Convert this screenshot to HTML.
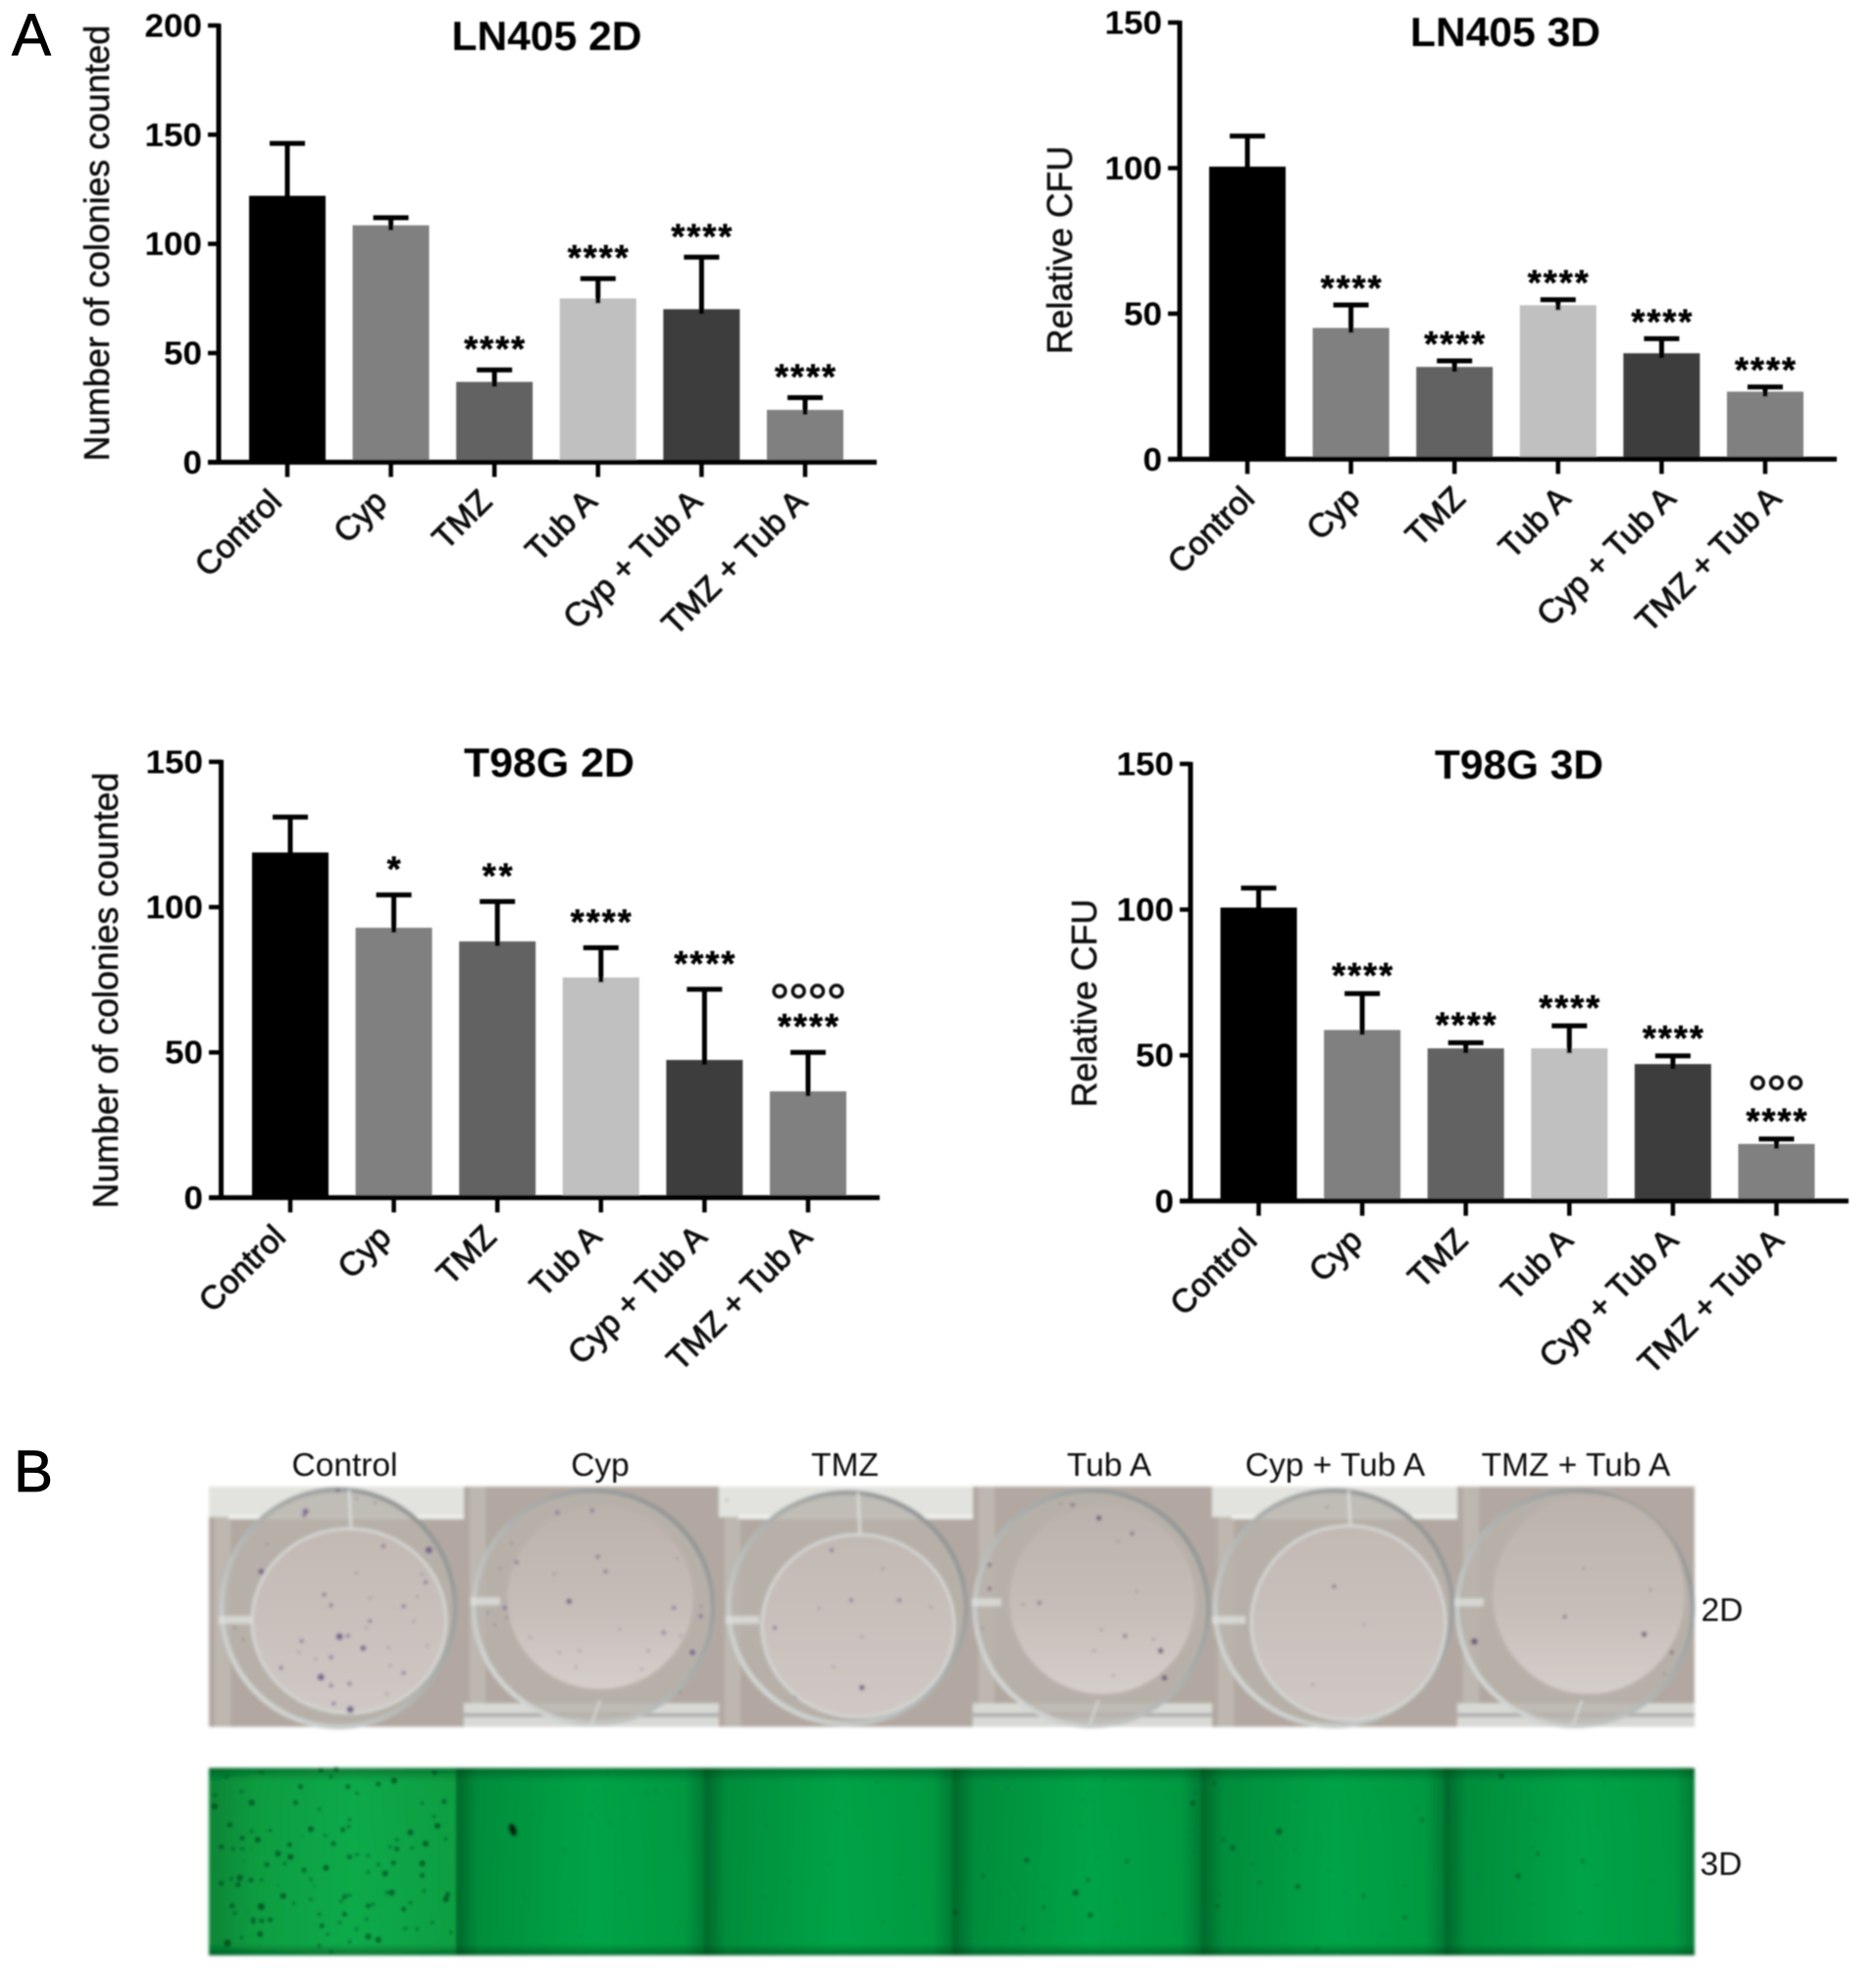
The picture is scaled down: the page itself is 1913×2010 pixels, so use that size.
<!DOCTYPE html>
<html lang="en">
<head>
<meta charset="utf-8">
<title>Colony formation charts</title>
<style>
html,body{margin:0;padding:0;background:#fff;width:1913px;height:2010px;overflow:hidden}
svg{display:block;font-family:"Liberation Sans",sans-serif}
</style>
</head>
<body>
<svg id="figure" xmlns="http://www.w3.org/2000/svg" width="1913" height="2010" viewBox="0 0 1913 2010">
<defs>
<filter id="soft" x="-5%" y="-5%" width="110%" height="110%"><feGaussianBlur stdDeviation="0.9"/></filter>
<filter id="soft2" x="-5%" y="-5%" width="110%" height="110%"><feGaussianBlur stdDeviation="1.6"/></filter>
<linearGradient id="greenA" x1="0" x2="1" y1="0" y2="0"><stop offset="0%" stop-color="#078a38"/><stop offset="20%" stop-color="#09a444"/><stop offset="58%" stop-color="#0cb14e"/><stop offset="100%" stop-color="#09a545"/></linearGradient>
<linearGradient id="greenB" x1="0" x2="1" y1="0" y2="0"><stop offset="0%" stop-color="#056a2c"/><stop offset="9%" stop-color="#04933f"/><stop offset="55%" stop-color="#03aa4a"/><stop offset="92%" stop-color="#039f44"/><stop offset="100%" stop-color="#037f36"/></linearGradient>
<linearGradient id="greenEdge" x1="0" x2="0" y1="0" y2="1"><stop offset="0%" stop-color="#013010" stop-opacity="0.45"/><stop offset="7%" stop-color="#013010" stop-opacity="0.06"/><stop offset="94%" stop-color="#013010" stop-opacity="0.05"/><stop offset="100%" stop-color="#013010" stop-opacity="0.5"/></linearGradient>
<linearGradient id="ringStroke" x1="1" x2="0" y1="0" y2="1"><stop offset="0%" stop-color="#8a8d8e"/><stop offset="50%" stop-color="#aeb2b0"/><stop offset="100%" stop-color="#dfe2e0"/></linearGradient>
<linearGradient id="floorClosed" x1="0" x2="0" y1="0" y2="1"><stop offset="0%" stop-color="#bcb2ac"/><stop offset="55%" stop-color="#c6bdb8"/><stop offset="100%" stop-color="#d5cfcb"/></linearGradient>
<linearGradient id="floorOpen" x1="0" x2="0" y1="0" y2="1"><stop offset="0%" stop-color="#c2b9b3"/><stop offset="100%" stop-color="#d0c8c5"/></linearGradient>
</defs>
<text x="12" y="56" font-size="60" fill="#000" stroke="#000" stroke-width="0.8">A</text>
<text x="14" y="1521" font-size="60" fill="#000" stroke="#000" stroke-width="0.8">B</text>
<g id="charts" filter="url(#soft)"></g>
<g id="photos"></g>
<g id="photoLabels" filter="url(#soft)" font-size="33.5" fill="#111"></g>
</svg>
<script>
// ---- chart data ----
const categories = ["Control", "Cyp", "TMZ", "Tub A", "Cyp + Tub A", "TMZ + Tub A"];

const lnTwoDMeans = [122, 108.5, 36.8, 75, 70.1, 24];
const lnTwoDTops = [146, 112, 42.3, 84.1, 93.9, 29.6];
const lnTwoDTicks = [0, 50, 100, 150, 200];
const lnTwoDStars = ["", "", "****", "****", "****", "****"];
const lnTwoDRings = ["", "", "", "", "", ""];

const lnThreeDMeans = [100.5, 45.1, 31.7, 52.9, 36.4, 23.2];
const lnThreeDTops = [111, 53, 33.8, 54.8, 41.4, 24.8];
const lnThreeDTicks = [0, 50, 100, 150];
const lnThreeDStars = ["", "****", "****", "****", "****", "****"];
const lnThreeDRings = ["", "", "", "", "", ""];

const tTwoDMeans = [118.8, 92.9, 88.2, 75.8, 47.4, 36.6];
const tTwoDTops = [131, 104.2, 101.9, 86, 71.7, 50];
const tTwoDTicks = [0, 50, 100, 150];
const tTwoDStars = ["", "*", "**", "****", "****", "****"];
const tTwoDRings = ["", "", "", "", "", "°°°°"];

const tThreeDMeans = [100.7, 58.7, 52.4, 52.4, 47, 19.6];
const tThreeDTops = [107.4, 71.2, 54.3, 60.1, 49.8, 21.3];
const tThreeDTicks = [0, 50, 100, 150];
const tThreeDStars = ["", "****", "****", "****", "****", "****"];
const tThreeDRings = ["", "", "", "", "", "°°°"];

// ---- photo strip content (colony spots) ----
const photoHeadings = ["Control", "Cyp", "TMZ", "Tub A", "Cyp + Tub A", "TMZ + Tub A"];
const greenLeftCells = [[40,140,5],[75,50,3],[150,128,5],[120,95,3],[180,38,3],[295,80,4],[280,128,4],[350,148,3],[355,30,4],[400,28,4],[385,50,3],[435,80,4],[462,100,3],[525,72,4],[572,62,5],[692,38,4],[655,130,3],[720,125,4],[42,105,3],[85,195,4],[150,215,3],[205,212,3],[168,240,5],[122,235,4],[60,262,4],[95,268,3],[122,268,3],[150,268,2],[228,282,5],[262,255,4],[265,292,5],[195,315,4],[248,312,3],[130,305,2],[325,208,5],[300,228,2],[368,228,3],[392,252,4],[420,210,4],[440,180,3],[437,200,3],[620,218,5],[690,170,3],[700,198,5],[725,238,3],[665,252,5],[625,265,3],[580,240,3],[560,262,3],[580,268,4],[570,310,4],[655,312,5],[525,315,3],[655,348,4],[545,342,5],[370,325,5],[305,332,4],[325,360,3],[335,380,2],[495,288,3],[440,292,4],[462,285,3],[495,338,3],[60,372,4],[90,358,3],[115,355,5],[110,376,4],[148,362,4],[180,362,3],[228,378,2],[243,410,5],[275,432,3],[325,420,3],[425,412,4],[440,408,3],[415,425,3],[565,400,5],[550,400,3],[660,395,3],[730,405,4],[725,420,5],[92,440,4],[178,442,6],[100,462,3],[140,458,2],[155,482,4],[180,485,4],[205,482,4],[155,490,3],[495,440,4],[510,435,3],[600,450,4],[620,430,3],[350,465,3],[425,465,4],[490,480,3],[685,490,3],[358,500,4],[410,490,3],[460,510,3],[605,508,3],[640,510,3],[175,525,5],[120,535,3],[78,552,6],[375,525,3],[495,532,5],[525,542,5],[740,520,3],[172,560,2],[350,560,3],[440,548,3],[385,578,3],
  [1120,160,2],[1155,165,2],[1210,187,2],[1250,170,2],[1020,50,2],[1205,40,2],[1345,95,2],[1320,100,2],[980,160,2],[1100,455,2],[1240,400,2],[1125,530,2],[1420,490,2],[1075,270,2],[960,420,2]];
const greenMidCells = [[894,1818,2],[854,1849,2],[781,1862,2],[759,1842,2],[805,1919,2],[931,1944,2],[918,1912,2],[844,1900,2],[900,1960,2],[780,1935,2]];
const greenRightCells = [[135,85,2],[335,60,2],[290,120,2],[175,302,4],[85,350,3],[380,305,3],[275,400,5],[300,362,3],[28,460,4],[210,445,3],[305,468,4],[168,508,3],[362,498,2],[225,485,2],[155,385,2],[120,400,2],[318,292,2],[95,265,2],[180,255,2],[285,195,2],[515,130,4],[520,100,2],[510,215,2],[515,275,2],[355,430,2],[455,468,2],[60,535,2],[330,550,2],[212,385,2],[692,215,5],[597,265,4],[578,240,3],[730,382,4],[652,370,3],[565,440,3],[570,405,2],[865,410,3],[828,398,2],[950,475,3],[770,570,3],[560,70,3],[985,180,3],[875,150,2],[975,150,2],[770,230,2],[695,260,2],[725,270,2],[640,315,2],[795,335,2],[730,125,2],[1020,510,2],[905,525,2],[950,378,2],[1148,48,4],[1315,305,3],[1182,350,4],[1222,283,3],[1285,160,2],[1220,178,2],[1458,365,2],[1518,125,2],[1100,345,2],[1345,378,2],[1205,435,2],[1310,460,2],[1360,72,2],[1210,265,2]];
const plateLeftCells = [[410,487,5],[355,610,5],[480,522,4],[675,225,5],[178,290,4],[442,708,5],[393,690,3],[440,630,3],[298,500,3],[290,535,2],[237,582,3],[340,555,2],[385,550,3],[600,597,3],[560,575,2],[555,520,2],[600,395,3],[640,365,2],[500,440,3],[490,460,2],[365,360,3],[385,392,3],[460,295,2],[540,213,3],[665,322,3],[655,298,2],[195,208,2],[310,108,4],[305,120,3],[515,82,2],[460,68,2],[405,45,3],[100,460,2],[125,495,2],[435,485,3],[670,515,2],[385,635,3],[550,660,2],[500,370,2],[630,440,2],[1090,380,4],[1175,245,3],[1198,290,3],[1055,112,3],[1158,105,3],[935,262,3],[885,280,2],[1045,297,2],[900,400,3],[850,415,2],[870,450,2],[905,430,2],[1400,400,3],[1370,475,3],[1455,535,4],[1480,425,3],[1480,395,2],[1420,485,2],[1305,585,2],[1120,530,2],[1060,535,2],[1240,465,2],[975,490,2],[1420,655,2],[1325,530,2],[1410,250,2],[1110,580,2],[920,205,2]];
const plateMidCells = [[917,1632,3],[868,1632,3],[790,1660,3],[879,1669,2],[879,1721,4],[811,1730,2],[848,1581,3],[949,1639,2],[741,1530,2],[835,1640,2],[900,1600,2],[850,1700,2]];
const plateRightCells = [[290,128,4],[360,175,3],[330,198,2],[235,88,3],[210,85,2],[165,385,3],[60,270,3],[60,342,3],[45,462,2],[420,530,4],[345,485,3],[280,530,2],[428,612,4],[320,605,2],[405,495,2],[295,465,2],[370,350,2],[130,390,2],[785,335,3],[848,450,2],[740,632,2],[770,95,2],[1080,502,5],[1437,480,4],[1270,427,3],[1495,535,3],[1310,280,2],[1450,345,2],[1480,600,2]];

// ---- drawing helpers ----
const SVGNS = "http://www.w3.org/2000/svg";
const GREYS = ["#000000", "#808080", "#626262", "#c0c0c0", "#3e3e3e", "#808080"];

function make(tag, attrs, parent) {
  const node = document.createElementNS(SVGNS, tag);
  for (const key in attrs) node.setAttribute(key, attrs[key]);
  parent.appendChild(node);
  return node;
}

function drawChart(root, opts) {
  const xScale = i => opts.firstX + opts.band * i;
  const yScale = v => opts.y0 - (v / opts.max) * (opts.y0 - opts.yTop);
  const g = make("g", {}, root);
  
  

  opts.means.forEach((mean, i) => {
    const cx = xScale(i);
    const bar = make("rect", {x: cx - 39, y: yScale(mean), width: 78, height: opts.y0 - yScale(mean), fill: GREYS[i]}, g);
    
    
    const stem = make("line", {x1: cx, x2: cx, y1: yScale(mean) + 5, y2: yScale(opts.tops[i]), stroke: "#000", "stroke-width": 5}, g);
    
    
    const cap = make("line", {x1: cx - 18, x2: cx + 18, y1: yScale(opts.tops[i]), y2: yScale(opts.tops[i]), stroke: "#000", "stroke-width": 5}, g);
    
    

    const tick = make("line", {x1: cx, x2: cx, y1: opts.y0, y2: opts.y0 + 15, stroke: "#000", "stroke-width": 4.5}, g);
    
    

    const lx = cx + opts.labelDx + opts.labelStep * i, ly = opts.y0 + 42;
    const label = make("text", {x: lx, y: ly, "text-anchor": "end", "font-size": 33.5, fill: "#111", stroke: "#111", "stroke-width": 0.9, transform: "rotate(-45 " + lx + " " + ly + ")"}, g);
    label.textContent = categories[i];
    
    

    if (opts.stars[i]) {
      const starCentre = yScale(opts.tops[i]) - opts.starGap;
      const stars = make("text", {x: cx, y: starCentre + 20, "text-anchor": "middle", "font-size": 36, "font-weight": "bold", fill: "#000", stroke: "#000", "stroke-width": 0.5, textLength: opts.stars[i].length * 15.5, lengthAdjust: "spacing"}, g);
      stars.textContent = opts.stars[i];
      
      
      if (opts.rings[i]) {
        const rings = make("text", {x: cx, y: starCentre - opts.ringGap + 29, "text-anchor": "middle", "font-size": 52, fill: "#111", stroke: "#111", "stroke-width": 0.7, textLength: opts.rings[i].length * 19.7, lengthAdjust: "spacing"}, g);
        rings.textContent = opts.rings[i];
        
        
      }
    }
  });

  opts.ticks.forEach(v => {
    const y = yScale(v);
    const tk = make("line", {x1: opts.axisLeft, x2: opts.axisX, y1: y, y2: y, stroke: "#000", "stroke-width": 4.5}, g);
    
    
    const s = String(v);
    const tl = make("text", {x: opts.axisLeft - 6, y: y + 11.5, "text-anchor": "end", "font-size": 33, "font-weight": "bold", fill: "#000", textLength: s.length * 19.5, lengthAdjust: "spacingAndGlyphs"}, g);
    tl.textContent = s;
    
    
  });

  const yAxis = make("line", {x1: opts.axisX, x2: opts.axisX, y1: opts.yTop - 2, y2: opts.y0 + 2, stroke: "#000", "stroke-width": 5}, g);
  
  
  const xAxis = make("line", {x1: opts.axisLeft, x2: opts.axisRight, y1: opts.y0, y2: opts.y0, stroke: "#000", "stroke-width": 5}, g);
  
  

  const title = make("text", {x: opts.titleX, y: opts.titleY, "text-anchor": "middle", "font-size": 42, "font-weight": "bold", fill: "#000", textLength: opts.titleW, lengthAdjust: "spacingAndGlyphs"}, g);
  title.textContent = opts.title;
  
  

  const yt = make("text", {x: 0, y: 0, "text-anchor": "middle", "font-size": 35.7, fill: "#111", stroke: "#111", "stroke-width": 0.5, transform: "translate(" + opts.yTitleX + " " + opts.yTitleY + ") rotate(-90)"}, g);
  yt.textContent = opts.yTitle;
  
  
}

const chartRoot = document.getElementById("charts");
drawChart(chartRoot, {name: "chart-ln405-2d", means: lnTwoDMeans, tops: lnTwoDTops, ticks: lnTwoDTicks, stars: lnTwoDStars, rings: lnTwoDRings, max: 200,
  firstX: 293, band: 105.6, y0: 471.4, yTop: 26, axisX: 223, axisLeft: 212, axisRight: 894, starGap: 29, ringGap: 28, labelDx: -4, labelStep: 1.6,
  title: "LN405 2D", titleX: 557.5, titleY: 51, titleW: 194, yTitle: "Number of colonies counted", yTitleX: 111, yTitleY: 248});
drawChart(chartRoot, {name: "chart-ln405-3d", means: lnThreeDMeans, tops: lnThreeDTops, ticks: lnThreeDTicks, stars: lnThreeDStars, rings: lnThreeDRings, max: 150,
  firstX: 1272, band: 105.6, y0: 468.3, yTop: 23, axisX: 1203, axisLeft: 1191, axisRight: 1873, starGap: 25, ringGap: 28, labelDx: 9, labelStep: 1.8,
  title: "LN405 3D", titleX: 1535, titleY: 47, titleW: 194, yTitle: "Relative CFU", yTitleX: 1093, yTitleY: 255});
drawChart(chartRoot, {name: "chart-t98g-2d", means: tTwoDMeans, tops: tTwoDTops, ticks: tTwoDTicks, stars: tTwoDStars, rings: tTwoDRings, max: 150,
  firstX: 296, band: 105.6, y0: 1221.4, yTop: 776.9, axisX: 225.5, axisLeft: 213, axisRight: 897, starGap: 34, ringGap: 28, labelDx: -3, labelStep: 1.8,
  title: "T98G 2D", titleX: 560, titleY: 792, titleW: 174, yTitle: "Number of colonies counted", yTitleX: 120, yTitleY: 1010});
drawChart(chartRoot, {name: "chart-t98g-3d", means: tThreeDMeans, tops: tThreeDTops, ticks: tThreeDTicks, stars: tThreeDStars, rings: tThreeDRings, max: 150,
  firstX: 1283.5, band: 105.6, y0: 1224.8, yTop: 779, axisX: 1214, axisLeft: 1203, axisRight: 1885, starGap: 26, ringGap: 31, labelDx: 0, labelStep: 1.8,
  title: "T98G 3D", titleX: 1549, titleY: 794, titleW: 172, yTitle: "Relative CFU", yTitleX: 1118, yTitleY: 1023});

// ---- photo strip ----
const photos = document.getElementById("photos");
const plateRow = make("g", {filter: "url(#soft2)"}, photos);


const plateEdges = [213, 473, 733, 992, 1236, 1486, 1728];
const plateTop = 1516, plateBottom = 1761;
const plateDishes = [
  {ox:345,orx:119,oy:1640,ory:121,ix:356,irx:99,iy:1653,iry:94,open:true},
  {ox:605,orx:122,oy:1639,ory:119,ix:612,irx:96,iy:1630,iry:94,open:false},
  {ox:864,orx:121,oy:1640,ory:118,ix:875,irx:98,iy:1658,iry:93,open:true},
  {ox:1113,orx:119,oy:1640,ory:120,ix:1124,irx:96,iy:1632,iry:97,open:false},
  {ox:1360,orx:121,oy:1640,ory:120,ix:1375,irx:99,iy:1655,iry:99,open:true},
  {ox:1606,orx:120,oy:1640,ory:120,ix:1620,irx:99,iy:1627,iry:102,open:false}
];
plateDishes.forEach((d, i) => {
  const panel = make("g", {}, plateRow);
  
  
  const x0 = plateEdges[i], x1 = plateEdges[i + 1], w = x1 - x0;
  make("rect", {x: x0, y: plateTop, width: w, height: plateBottom - plateTop, fill: "#b2a8a1"}, panel);
  make("rect", {x: x0 + 6, y: plateTop, width: 16, height: plateBottom - plateTop, fill: "#bdb7b0"}, panel);
  if (d.open) {
    make("rect", {x: x0, y: plateTop, width: w, height: 31, fill: "#e2e3de"}, panel);
    make("rect", {x: x0 + 20, y: plateTop + 29, width: w - 20, height: 4, fill: "#eff0ed"}, panel);
  } else {
    make("rect", {x: x0, y: 1737, width: w, height: 24, fill: "#d8d9d5"}, panel);
    make("rect", {x: x0, y: 1747, width: w, height: 4, fill: "#adaead"}, panel);
  }
  make("ellipse", {cx: d.ox, cy: d.oy, rx: d.orx, ry: d.ory, fill: "#b8b1ab", "fill-opacity": 0.8, stroke: "url(#ringStroke)", "stroke-width": 5}, panel);
  if (d.open) {
    make("line", {x1: d.ix, y1: d.oy - d.ory, x2: d.ix + 2, y2: d.iy - d.iry, stroke: "#dfe1df", "stroke-width": 3, opacity: 0.8}, panel);
  } else {
    make("line", {x1: d.ox + 7, y1: 1734, x2: d.ox - 2, y2: 1759, stroke: "#d8dad8", "stroke-width": 3, opacity: 0.7}, panel);
  }
  make("ellipse", {cx: d.ix, cy: d.iy, rx: d.irx, ry: d.iry, fill: d.open ? "url(#floorOpen)" : "url(#floorClosed)", stroke: d.open ? "#d4d6d3" : "#b9b0aa", "stroke-width": 3}, panel);
  make("rect", {x: d.ox - d.orx - 3, y: d.open ? d.oy + 8 : d.oy - 10, width: d.open ? 34 : 30, height: 8, fill: "#dfe2df", opacity: 0.75}, panel);
});

function placeSpots(cells, parent, mapX, mapY, colour, label, scale) {
  cells.forEach(p => {
    const dot = make("circle", {cx: mapX(p[0]), cy: mapY(p[1]), r: p[2] * scale, fill: colour, opacity: p[2] >= 4 ? 0.85 : (p[2] === 3 ? 0.62 : 0.4)}, parent);
    
    
  });
}
const sameCoord = v => v;
placeSpots(plateLeftCells, plateRow, v => 205 + v / 2.904, v => 1505 + v / 2.97, "#6a5088", "colony-dot", 0.72);
placeSpots(plateMidCells, plateRow, sameCoord, sameCoord, "#6a5088", "colony-dot", 0.72);
placeSpots(plateRightCells, plateRow, v => 980 + v / 2.063, v => 1505 + v / 2.97, "#574870", "colony-dot", 0.68);

const greenRow = make("g", {filter: "url(#soft2)"}, photos);


const greenEdges = [213, 465, 718, 971.5, 1225, 1473, 1728];
const greenTop = 1803, greenBottom = 1994;
greenEdges.slice(0, 6).forEach((edge, i) => {
  const panel = make("rect", {x: edge, y: greenTop, width: greenEdges[i + 1] - edge, height: greenBottom - greenTop, fill: i === 0 ? "url(#greenA)" : "url(#greenB)"}, greenRow);
  
  
});
const greenShade = make("rect", {x: 213, y: greenTop, width: 1515, height: greenBottom - greenTop, fill: "url(#greenEdge)"}, greenRow);


placeSpots(greenLeftCells, greenRow, v => 205 + v / 2.904, v => 1795 + v / 2.96, "#03401b", "sphere-dot", 0.6);
placeSpots(greenMidCells, greenRow, sameCoord, sameCoord, "#03401b", "sphere-dot", 0.6);
placeSpots(greenRightCells, greenRow, v => 960 + v / 2.01, v => 1795 + v / 2.96, "#03401b", "sphere-dot", 0.6);
const blotch = make("ellipse", {cx: 523, cy: 1866, rx: 4, ry: 7, fill: "#02200d", transform: "rotate(-20 523 1866)"}, greenRow);



const labelRoot = document.getElementById("photoLabels");
const headingCentres = [351.5, 612, 861.6, 1131, 1361.5, 1607];
photoHeadings.forEach((h, i) => {
  const t = make("text", {x: headingCentres[i], y: 1505, "text-anchor": "middle"}, labelRoot);
  t.textContent = h;
  
  
});
const rowTwoD = make("text", {x: 1756, y: 1653, "text-anchor": "middle"}, labelRoot);
rowTwoD.textContent = "2D";


const rowThreeD = make("text", {x: 1755, y: 1912, "text-anchor": "middle"}, labelRoot);
rowThreeD.textContent = "3D";


</script>
</body>
</html>
